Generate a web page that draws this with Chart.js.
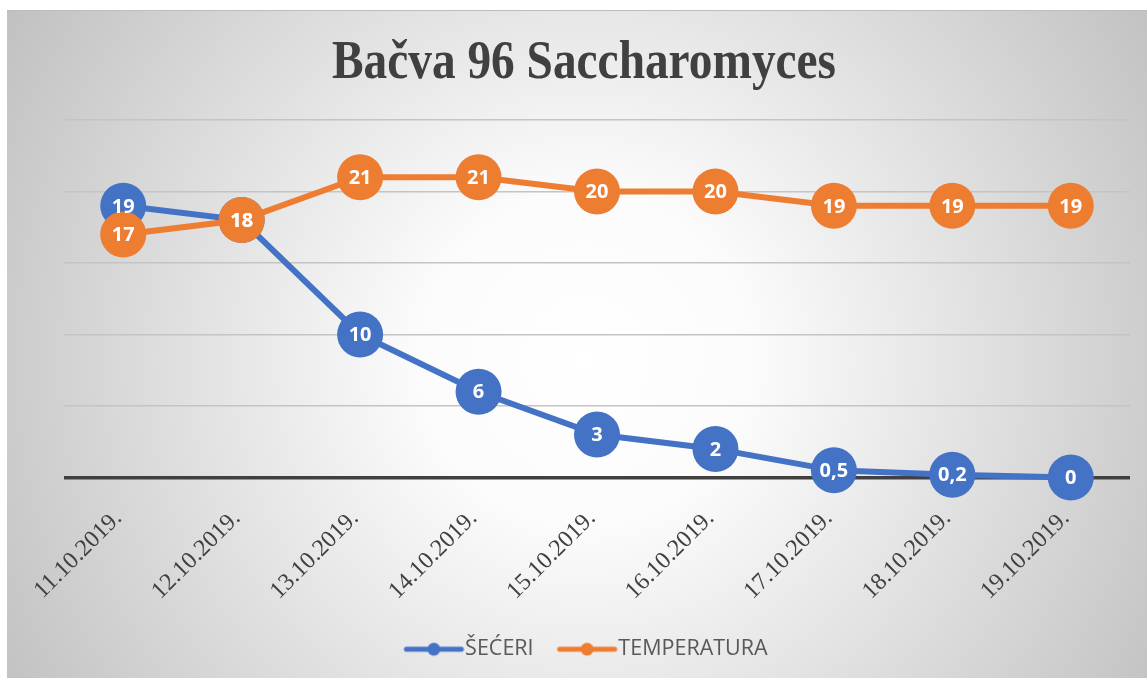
<!DOCTYPE html>
<html><head><meta charset="utf-8">
<script src="https://cdn.jsdelivr.net/npm/chart.js@4"></script>
<style>html,body{margin:0;padding:0;background:#fff;overflow:hidden}</style>
</head><body>
<canvas id="c" width="1147" height="678"></canvas>
<script>
const categories = ['11.10.2019.','12.10.2019.','13.10.2019.','14.10.2019.','15.10.2019.','16.10.2019.','17.10.2019.','18.10.2019.','19.10.2019.'];
const secerValues = [19, 18, 10, 6, 3, 2, 0.5, 0.2, 0];
const temperaturaValues = [17, 18, 21, 21, 20, 20, 19, 19, 19];
const seriesNames = ['ŠEĆERI', 'TEMPERATURA'];
const yMin = 0, yMax = 25, yStep = 5;
const titleText = 'Bačva 96 Saccharomyces';

const BLUE = '#4472c4', ORANGE = '#ed7d31';

function makeIcon(color) {
  const cv = document.createElement('canvas');
  cv.width = 90; cv.height = 16;
  const g = cv.getContext('2d');
  g.strokeStyle = color; g.lineWidth = 5; g.lineCap = 'round';
  g.beginPath(); g.moveTo(29, 8); g.lineTo(84, 8); g.stroke();
  g.fillStyle = color;
  g.beginPath(); g.arc(56.5, 8, 6.5, 0, Math.PI * 2); g.fill();
  return cv;
}
const icons = [makeIcon(BLUE), makeIcon(ORANGE)];

const bgPlugin = {
  id: 'bg',
  beforeDraw(chart) {
    const ctx = chart.ctx;
    ctx.save();
    ctx.fillStyle = '#ffffff';
    ctx.fillRect(0, 0, chart.width, chart.height);
    const g = ctx.createRadialGradient(585, 360, 0, 585, 360, 680);
    g.addColorStop(0, '#ffffff');
    g.addColorStop(0.25, '#fbfbfb');
    g.addColorStop(1, '#c0c0c0');
    ctx.fillStyle = g;
    ctx.fillRect(7, 10, chart.width - 7, chart.height - 10);
    ctx.fillStyle = '#bdbdbd';
    ctx.fillRect(7, 10, chart.width - 7, 1);
    ctx.restore();
  },
  afterDraw(chart) {
    const ctx = chart.ctx;
    ctx.save();
    ctx.font = 'bold 54px "Liberation Serif"';
    const w = ctx.measureText(titleText).width;
    const sx = 504 / w;
    ctx.translate(584, 78);
    ctx.scale(sx, 1);
    ctx.fillStyle = '#404040';
    ctx.textAlign = 'center';
    ctx.textBaseline = 'alphabetic';
    ctx.fillText(titleText, 0, 0);
    ctx.restore();
  }
};

const labelPlugin = {
  id: 'vlabels',
  afterDatasetsDraw(chart) {
    const ctx = chart.ctx;
    ctx.save();
    ctx.font = 'bold 20px "Open Sans"';
    ctx.fillStyle = '#ffffff';
    ctx.textAlign = 'center';
    ctx.textBaseline = 'middle';
    chart.data.datasets.forEach((ds, di) => {
      const meta = chart.getDatasetMeta(di);
      meta.data.forEach((el, i) => {
        const v = ds.data[i];
        ctx.fillText(String(v).replace('.', ','), el.x, el.y + 1);
      });
    });
    ctx.restore();
  }
};

new Chart(document.getElementById('c'), {
  type: 'line',
  data: {
    labels: categories,
    datasets: [
      { label: seriesNames[0], data: secerValues, borderColor: BLUE, backgroundColor: BLUE, clip: false,
        borderWidth: 6, pointRadius: 23, pointBorderWidth: 0, pointBackgroundColor: BLUE, order: 1 },
      { label: seriesNames[1], data: temperaturaValues, borderColor: ORANGE, backgroundColor: ORANGE, clip: false,
        borderWidth: 6, pointRadius: 23, pointBorderWidth: 0, pointBackgroundColor: ORANGE, order: 0 }
    ]
  },
  options: {
    responsive: false,
    animation: false,
    devicePixelRatio: 1,
    layout: { autoPadding: false, padding: { top: 120, left: 28, right: 17, bottom: 8 } },
    plugins: {
      title: { display: false },
      tooltip: { enabled: false },
      legend: {
        display: true,
        position: 'bottom',
        labels: {
          usePointStyle: true,
          pointStyleWidth: 64,
          padding: 10,
          color: '#595959',
          font: { family: '"Open Sans"', size: 21.5 },
          sort: (a, b) => a.datasetIndex - b.datasetIndex,
          generateLabels(chart) {
            const items = Chart.defaults.plugins.legend.labels.generateLabels(chart);
            items.forEach(it => { it.pointStyle = icons[it.datasetIndex]; });
            return items;
          }
        }
      }
    },
    scales: {
      x: {
        offset: true,
        grid: { display: false },
        border: { display: false },
        ticks: {
          autoSkip: false, minRotation: 45, maxRotation: 45,
          color: '#404040', padding: 19, labelOffset: -5,
          font: { family: '"Liberation Serif"', size: 24 }
        },
        afterFit(scale) { scale.height = 151; scale.paddingLeft = 0; scale.paddingRight = 0; }
      },
      y: {
        min: yMin, max: yMax,
        ticks: { display: false, stepSize: yStep },
        border: { display: false },
        grid: {
          drawTicks: false,
          color: c => c.tick && c.tick.value === 0 ? '#404040' : '#c4c4c4',
          lineWidth: c => c.tick && c.tick.value === 0 ? 3.5 : 1.5
        },
        afterFit(scale) { scale.width = 36; }
      }
    }
  },
  plugins: [bgPlugin, labelPlugin]
});
</script>
</body></html>
